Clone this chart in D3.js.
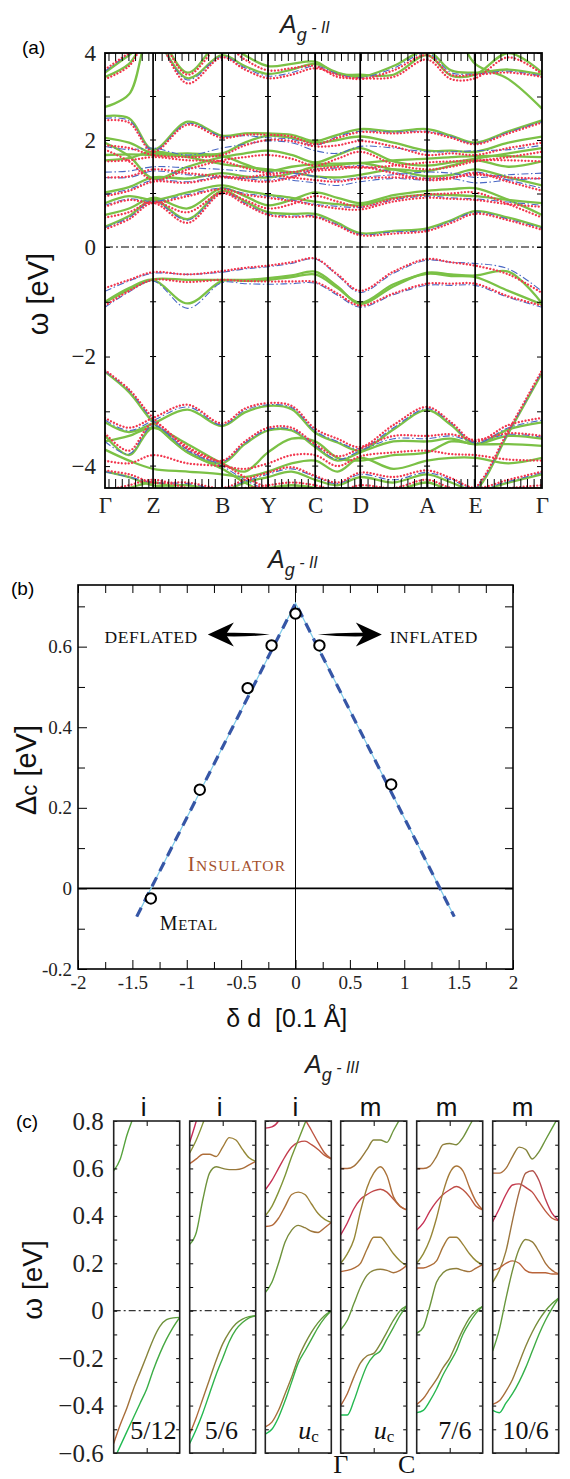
<!DOCTYPE html>
<html>
<head>
<meta charset="utf-8">
<script src="https://cdn.jsdelivr.net/npm/d3@7/dist/d3.min.js"></script>
<style>
  body { margin: 0; background: #fff; }
  svg { display: block; }
</style>
</head>
<body>
<svg id="fig" width="570" height="1479"></svg>
<script>
// ---------- (a) bands along the k-path: values in eV at kSamples ----------
const kLabels = ["Γ", "Z", "B", "Y", "C", "D", "A", "E", "Γ"];
const kPoints = [0, 0.110, 0.268, 0.373, 0.481, 0.584, 0.737, 0.847, 1];
// high-symmetry points and the midpoints between them
const kSamples = [0, 0.055, 0.110, 0.189, 0.268, 0.32, 0.373, 0.427, 0.481, 0.532, 0.584, 0.66, 0.737, 0.792, 0.847, 0.923, 1];

const greenBands = [
  [3.55, 3.95, 4.3, 3.42, 3.95, 3.7, 3.52, 3.62, 3.75, 3.55, 3.45, 3.7, 4.05, 3.6, 3.55, 3.62, 3.5],
  [3.45, 3.75, 4.5, 3.55, 4.3, 3.95, 3.7, 3.75, 3.8, 3.52, 3.5, 3.5, 3.95, 3.48, 3.5, 4.0, 3.55],
  [2.76, 3.05, 4.6, 4.6, 4.6, 4.6, 4.6, 4.6, 4.6, 4.6, 4.6, 4.6, 4.6, 4.6, 3.75, 3.4, 2.72],
  [2.55, 2.5, 1.82, 2.42, 2.1, 2.15, 2.15, 2.12, 1.98, 2.12, 2.25, 2.2, 2.25, 2.1, 1.95, 2.2, 2.45],
  [2.05, 1.95, 1.75, 1.75, 1.75, 1.95, 2.1, 2.05, 1.95, 2.0, 2.08, 1.95, 1.8, 1.8, 1.78, 1.95, 2.08],
  [1.95, 1.7, 1.28, 1.5, 1.68, 1.75, 1.8, 1.72, 1.58, 1.72, 1.85, 1.6, 1.52, 1.58, 1.65, 1.75, 1.85],
  [1.72, 1.73, 1.72, 1.7, 1.7, 1.55, 1.42, 1.5, 1.55, 1.56, 1.57, 1.62, 1.65, 1.68, 1.7, 1.7, 1.68],
  [1.62, 1.66, 1.78, 1.68, 1.55, 1.5, 1.45, 1.4, 1.32, 1.3, 1.35, 1.45, 1.42, 1.52, 1.62, 1.5, 1.6],
  [1.02, 1.12, 1.3, 1.28, 1.38, 1.32, 1.3, 1.38, 1.5, 1.53, 1.57, 1.45, 1.32, 1.35, 1.45, 1.3, 1.15],
  [0.82, 0.95, 0.88, 1.02, 1.15, 1.05, 0.98, 0.92, 0.85, 0.8, 0.78, 0.92, 0.98, 0.97, 0.95, 0.88, 0.82],
  [0.6, 0.72, 0.92, 0.72, 1.1, 0.95, 0.78, 0.88, 1.02, 0.92, 0.82, 0.97, 1.05, 1.08, 1.1, 0.88, 0.6],
  [0.38, 0.58, 0.88, 0.52, 1.05, 0.85, 0.65, 0.62, 0.62, 0.45, 0.26, 0.3, 0.35, 0.5, 0.67, 0.55, 0.37],
  [-1.01, -0.78, -0.59, -0.6, -0.6, -0.6, -0.57, -0.52, -0.45, -0.72, -1.04, -0.72, -0.47, -0.5, -0.52, -0.45, -1.03],
  [-1.0, -0.75, -0.6, -1.03, -0.62, -0.62, -0.6, -0.55, -0.5, -0.75, -1.02, -0.68, -0.49, -0.53, -0.55, -0.8, -1.05],
  [-2.28, -2.65, -3.2, -3.75, -4.05, -4.3, -4.5, -4.6, -4.6, -4.6, -4.6, -4.6, -4.6, -4.6, -4.45, -3.4, -2.3],
  [-3.2, -3.38, -3.22, -2.97, -3.27, -3.02, -2.9, -2.96, -3.39, -3.57, -3.72, -3.33, -2.98, -3.25, -3.6, -3.33, -3.2],
  [-3.44, -3.8, -3.3, -3.75, -3.95, -3.6, -3.35, -3.35, -3.65, -3.9, -3.75, -3.55, -3.55, -3.5, -3.6, -3.45, -3.5],
  [-3.55, -3.45, -3.3, -3.6, -3.95, -4.1, -3.75, -3.5, -3.55, -3.85, -3.9, -3.8, -3.75, -3.55, -3.6, -3.6, -3.63],
  [-3.7, -3.9, -4.05, -4.1, -4.15, -4.2, -4.1, -3.95, -3.9, -4.1, -3.85, -4.05, -3.9, -3.85, -3.85, -3.95, -3.85],
  [-4.1, -4.2, -4.35, -4.35, -4.45, -4.3, -4.2, -4.1, -4.25, -4.35, -4.2, -4.3, -4.15, -4.3, -4.45, -4.3, -4.15],
  [-4.5, -4.4, -4.3, -4.45, -4.5, -4.45, -4.4, -4.35, -4.4, -4.5, -4.4, -4.45, -4.3, -4.45, -4.5, -4.45, -4.4]
];

const redBands = [
  [3.62, 4.0, 4.35, 3.3, 3.9, 3.62, 3.42, 3.5, 3.65, 3.5, 3.4, 3.6, 3.95, 3.5, 3.5, 3.55, 3.45],
  [3.4, 3.7, 4.5, 3.5, 4.2, 3.85, 3.6, 3.65, 3.7, 3.45, 3.42, 3.45, 3.85, 3.4, 3.42, 3.9, 3.52],
  [2.45, 2.4, 1.78, 2.35, 2.05, 2.12, 2.12, 2.08, 1.92, 2.05, 2.18, 2.15, 2.18, 2.05, 1.92, 2.15, 2.4],
  [1.9, 1.85, 1.72, 1.68, 1.72, 1.9, 2.0, 1.98, 1.88, 1.9, 1.98, 1.88, 1.72, 1.75, 1.72, 1.85, 1.95],
  [1.82, 1.6, 1.25, 1.45, 1.62, 1.68, 1.72, 1.65, 1.52, 1.65, 1.78, 1.55, 1.45, 1.5, 1.6, 1.68, 1.78],
  [1.6, 1.62, 1.68, 1.62, 1.6, 1.48, 1.38, 1.4, 1.45, 1.5, 1.48, 1.52, 1.58, 1.6, 1.62, 1.62, 1.6],
  [1.3, 1.32, 1.45, 1.38, 1.32, 1.3, 1.35, 1.3, 1.25, 1.22, 1.28, 1.3, 1.28, 1.3, 1.35, 1.3, 1.28],
  [0.95, 1.05, 1.22, 1.2, 1.3, 1.25, 1.22, 1.3, 1.42, 1.45, 1.5, 1.38, 1.25, 1.28, 1.38, 1.22, 1.05],
  [0.75, 0.88, 0.82, 0.95, 1.08, 0.98, 0.92, 0.86, 0.78, 0.72, 0.7, 0.85, 0.92, 0.9, 0.88, 0.8, 0.75],
  [0.55, 0.65, 0.85, 0.65, 1.02, 0.88, 0.72, 0.8, 0.95, 0.85, 0.75, 0.9, 0.98, 1.0, 1.02, 0.8, 0.55],
  [0.33, 0.52, 0.82, 0.45, 1.0, 0.8, 0.6, 0.56, 0.56, 0.4, 0.22, 0.25, 0.3, 0.45, 0.62, 0.5, 0.32],
  [-0.75, -0.6, -0.46, -0.5, -0.44, -0.38, -0.34, -0.28, -0.21, -0.5, -0.8, -0.45, -0.22, -0.28, -0.34, -0.5, -0.84],
  [-1.07, -0.8, -0.6, -0.64, -0.6, -0.62, -0.63, -0.63, -0.64, -0.85, -1.07, -0.85, -0.67, -0.67, -0.67, -0.9, -1.07],
  [-2.25, -2.6, -3.12, -3.65, -3.95, -4.2, -4.4, -4.55, -4.6, -4.6, -4.6, -4.6, -4.6, -4.6, -4.4, -3.35, -2.25],
  [-3.12, -3.3, -3.12, -2.88, -3.22, -2.95, -2.85, -2.9, -3.32, -3.5, -3.65, -3.25, -2.92, -3.2, -3.55, -3.25, -3.12],
  [-3.4, -3.72, -3.22, -3.68, -3.9, -3.55, -3.3, -3.3, -3.6, -3.82, -3.68, -3.45, -3.45, -3.42, -3.52, -3.4, -3.45],
  [-3.9, -3.95, -3.8, -3.95, -4.0, -4.05, -3.95, -3.8, -3.8, -4.0, -3.82, -3.75, -3.72, -3.78, -3.8, -3.88, -3.9],
  [-4.08, -4.15, -4.3, -4.3, -4.4, -4.25, -4.12, -4.02, -4.18, -4.3, -4.12, -4.2, -4.08, -4.22, -4.4, -4.25, -4.1],
  [-4.45, -4.35, -4.25, -4.4, -4.45, -4.4, -4.35, -4.3, -4.35, -4.45, -4.35, -4.4, -4.25, -4.4, -4.45, -4.4, -4.35]
];

const blueBands = [
  [3.58, 3.98, 4.3, 3.38, 3.92, 3.66, 3.47, 3.55, 3.7, 3.52, 3.43, 3.65, 4.0, 3.55, 3.52, 3.58, 3.47],
  [2.5, 2.45, 1.8, 2.38, 2.08, 2.1, 2.05, 2.02, 1.9, 2.08, 2.2, 2.18, 2.2, 2.08, 1.93, 2.18, 2.42],
  [1.88, 1.82, 1.85, 1.72, 1.85, 1.92, 1.98, 1.95, 1.8, 1.75, 1.88, 1.85, 1.78, 1.78, 1.8, 1.82, 1.9],
  [1.4, 1.42, 1.5, 1.48, 1.45, 1.42, 1.4, 1.38, 1.32, 1.25, 1.3, 1.35, 1.4, 1.38, 1.3, 1.35, 1.38],
  [1.3, 1.3, 1.42, 1.35, 1.3, 1.28, 1.32, 1.25, 1.2, 1.15, 1.22, 1.28, 1.25, 1.28, 1.2, 1.25, 1.28],
  [0.98, 1.08, 1.25, 1.22, 1.32, 1.28, 1.25, 1.32, 1.45, 1.48, 1.52, 1.4, 1.28, 1.3, 1.4, 1.25, 1.1],
  [0.78, 0.9, 0.85, 0.98, 1.1, 1.0, 0.95, 0.88, 0.8, 0.76, 0.74, 0.88, 0.95, 0.92, 0.9, 0.84, 0.78],
  [0.36, 0.55, 0.85, 0.5, 1.02, 0.82, 0.62, 0.58, 0.58, 0.42, 0.24, 0.28, 0.32, 0.48, 0.65, 0.52, 0.35],
  [-0.81, -0.62, -0.48, -0.5, -0.46, -0.4, -0.36, -0.3, -0.22, -0.52, -0.83, -0.48, -0.24, -0.28, -0.3, -0.4, -0.81],
  [-1.1, -0.82, -0.62, -1.12, -0.65, -0.67, -0.68, -0.67, -0.66, -0.88, -1.1, -0.87, -0.7, -0.7, -0.7, -0.92, -1.1],
  [-2.27, -2.62, -3.16, -3.7, -4.0, -4.25, -4.45, -4.6, -4.6, -4.6, -4.6, -4.6, -4.6, -4.6, -4.42, -3.38, -2.27],
  [-3.16, -3.35, -3.17, -2.92, -3.25, -2.98, -2.88, -2.93, -3.36, -3.55, -3.68, -3.3, -2.95, -3.22, -3.58, -3.3, -3.16],
  [-3.55, -3.78, -3.26, -3.72, -3.92, -3.58, -3.33, -3.33, -3.62, -3.88, -3.72, -3.5, -3.5, -3.45, -3.55, -3.42, -3.47],
  [-4.1, -4.2, -4.3, -4.32, -4.42, -4.28, -4.15, -4.05, -4.2, -4.32, -4.15, -4.25, -4.12, -4.25, -4.42, -4.28, -4.12]
];

// ---------- (b) charge gap vs. displacement ----------
const shiftD = [-1.33, -0.88, -0.44, -0.22, 0, 0.22, 0.88];
const gapC = [-0.025, 0.245, 0.497, 0.603, 0.682, 0.603, 0.258];
const fitD = [-1.46, 0, 1.46];
const fitC = [-0.07, 0.708, -0.07];

// ---------- (c) zoom near the gap, six fillings (t = Γ..C) ----------
const tSamples = [0, 0.1, 0.2, 0.3, 0.4, 0.5, 0.6, 0.7, 0.8, 0.9, 1];
const cTopLabels = ["i", "i", "i", "m", "m", "m"];
const cBottomLabels = ["5/12", "5/6", "uc", "uc", "7/6", "10/6"];
const cBands1 = [
  [0.59, 0.64, 0.74, 0.82, 0.92],
  [-0.56, -0.48, -0.41, -0.33, -0.26, -0.19, -0.12, -0.066, -0.038, -0.03, -0.028],
  [-0.63, -0.57, -0.51, -0.45, -0.39, -0.33, -0.25, -0.18, -0.12, -0.07, -0.028]
];
const cBands2 = [
  [0.28, 0.33, 0.47, 0.58, 0.607, 0.6, 0.595, 0.595, 0.6, 0.615, 0.63],
  [0.62, 0.64, 0.66, 0.66, 0.65, 0.69, 0.73, 0.72, 0.68, 0.645, 0.63],
  [0.665, 0.72, 0.79, 0.87],
  [0.71, 0.8, 0.9],
  [-0.52, -0.45, -0.37, -0.29, -0.21, -0.14, -0.09, -0.055, -0.035, -0.025, -0.021],
  [-0.56, -0.5, -0.43, -0.35, -0.27, -0.2, -0.13, -0.08, -0.05, -0.03, -0.021]
];
const cBands3 = [
  [0.51, 0.55, 0.6, 0.65, 0.69, 0.71, 0.715, 0.7, 0.68, 0.655, 0.64],
  [0.77, 0.775, 0.8, 0.86, 0.9, 0.88, 0.81, 0.76, 0.71, 0.665, 0.64],
  [0.4, 0.44, 0.5, 0.57, 0.65, 0.72, 0.79, 0.86],
  [0.355, 0.36, 0.39, 0.44, 0.49, 0.5, 0.49, 0.45, 0.41, 0.385, 0.372],
  [0.077, 0.12, 0.2, 0.29, 0.34, 0.36, 0.35, 0.335, 0.33, 0.35, 0.372],
  [-0.49, -0.47, -0.42, -0.35, -0.28, -0.2, -0.14, -0.09, -0.05, -0.02, 0.0],
  [-0.52, -0.5, -0.45, -0.38, -0.3, -0.22, -0.17, -0.12, -0.07, -0.03, 0.0]
];
const cBands4 = [
  [0.6, 0.6, 0.61, 0.64, 0.68, 0.72, 0.72, 0.71, 0.76, 0.81, 0.86],
  [0.32, 0.37, 0.43, 0.47, 0.49, 0.505, 0.512, 0.5, 0.47, 0.44, 0.425],
  [0.2, 0.24, 0.3, 0.42, 0.52, 0.58, 0.607, 0.57, 0.48, 0.44, 0.425],
  [0.165, 0.17, 0.18, 0.2, 0.26, 0.31, 0.31, 0.28, 0.24, 0.21, 0.19],
  [-0.08, -0.04, 0.03, 0.1, 0.15, 0.17, 0.175, 0.17, 0.16, 0.17, 0.19],
  [-0.40, -0.35, -0.28, -0.22, -0.19, -0.18, -0.14, -0.09, -0.04, 0.0, 0.02],
  [-0.44, -0.44, -0.38, -0.3, -0.23, -0.19, -0.17, -0.12, -0.07, -0.02, 0.02]
];
const cBands5 = [
  [0.6, 0.6, 0.61, 0.65, 0.7, 0.705, 0.7, 0.73, 0.78, 0.83, 0.88],
  [0.34, 0.37, 0.42, 0.46, 0.49, 0.51, 0.524, 0.51, 0.48, 0.44, 0.425],
  [0.2, 0.24, 0.3, 0.39, 0.5, 0.58, 0.61, 0.59, 0.52, 0.46, 0.425],
  [0.18, 0.18, 0.19, 0.21, 0.27, 0.31, 0.31, 0.28, 0.24, 0.21, 0.194],
  [-0.095, -0.07, 0.02, 0.12, 0.16, 0.175, 0.178, 0.17, 0.165, 0.18, 0.194],
  [-0.395, -0.37, -0.33, -0.29, -0.24, -0.2, -0.14, -0.08, -0.03, 0.0, 0.018],
  [-0.43, -0.42, -0.38, -0.33, -0.27, -0.22, -0.17, -0.1, -0.05, -0.01, 0.018]
];
const cBands6 = [
  [0.58, 0.58, 0.6, 0.65, 0.69, 0.68, 0.64, 0.67, 0.72, 0.77, 0.82],
  [0.376, 0.43, 0.49, 0.53, 0.535, 0.52, 0.5, 0.46, 0.42, 0.39, 0.38],
  [0.12, 0.17, 0.25, 0.38, 0.5, 0.58, 0.59, 0.55, 0.47, 0.41, 0.38],
  [0.17, 0.18, 0.2, 0.21, 0.2, 0.17, 0.16, 0.16, 0.16, 0.155, 0.155],
  [-0.17, -0.08, 0.05, 0.17, 0.26, 0.3, 0.29, 0.25, 0.2, 0.17, 0.155],
  [-0.395, -0.38, -0.34, -0.29, -0.22, -0.15, -0.09, -0.04, 0.0, 0.03, 0.053],
  [-0.42, -0.43, -0.39, -0.35, -0.3, -0.24, -0.17, -0.1, -0.04, 0.01, 0.053]
];

// ---------- styles ----------
const SERIF = "Liberation Serif, Times New Roman, DejaVu Serif, serif";
const SANS = "Liberation Sans, Arial, Helvetica, sans-serif";
const tone = { g: "#55a23c", bg: "#19be55", ol: "#8d9036", br: "#b9643a", cr: "#c82a57" };
const cTones = [
  [["g", "g"], ["br", "g"], ["bg", "g"]],
  [["g", "br"], ["br", "ol"], ["ol", "g"], ["cr", "cr"], ["br", "g"], ["bg", "g"]],
  [["cr", "br"], ["cr", "br"], ["ol", "g"], ["br", "ol"], ["g", "br"], ["br", "g"], ["bg", "g"]],
  [["br", "g"], ["cr", "br"], ["ol", "br"], ["br", "ol"], ["g", "br"], ["br", "g"], ["bg", "g"]],
  [["br", "g"], ["cr", "br"], ["ol", "br"], ["br", "ol"], ["g", "br"], ["br", "g"], ["bg", "g"]],
  [["br", "g"], ["cr", "br"], ["ol", "cr"], ["br", "br"], ["g", "br"], ["br", "g"], ["bg", "g"]]
];

const svg = d3.select("#fig");
const defs = svg.append("defs");
const minus = v => (v < 0 ? "−" + (-v) : String(v));
const styleAxis = (g, size, family) => {
  g.select(".domain").remove();
  g.attr("font-family", null).attr("font-size", null);
  g.selectAll("text").style("font-family", family).style("font-size", size + "px").attr("fill", "#222");
  g.selectAll("line").attr("stroke", "#000");
};

function title(x, y, roman) {
  const t = svg.append("text").attr("x", x).attr("y", y)
    .style("font-family", SANS).attr("font-style", "italic").attr("fill", "#222");
  t.append("tspan").attr("font-size", 25).text("A");
  t.append("tspan").attr("font-size", 18).attr("dy", 8).text("g");
  t.append("tspan").attr("font-size", 16).attr("dy", -8).text(" - " + roman);
}

// ================= panel (a) =================
const xA = d3.scaleLinear().domain([0, 1]).range([105, 542]);
const yA = d3.scaleLinear().domain([-4.4, 0, 2, 4]).range([488, 247, 140, 53]);
defs.append("clipPath").attr("id", "clipA").append("rect")
  .attr("x", xA(0)).attr("y", yA(4)).attr("width", xA(1) - xA(0)).attr("height", yA(-4.4) - yA(4));

title(280, 33, "II");
svg.append("text").attr("x", 22).attr("y", 54).style("font-family", SANS).attr("font-size", 19).text("(a)");

const lineA = d3.line().x((d, i) => xA(kSamples[i])).y(d => yA(d)).curve(d3.curveCatmullRom.alpha(0.5));
const bandsA = svg.append("g").attr("clip-path", "url(#clipA)");
[
  [greenBands, { stroke: "#7bc146", w: 2.3, dash: null, cap: "butt" }],
  [blueBands, { stroke: "#4a68c4", w: 1.1, dash: "7,2.5,1.5,2.5", cap: "butt" }],
  [redBands, { stroke: "#f2364e", w: 2.3, dash: "0.01,3.4", cap: "round" }]
].forEach(([bands, s]) => {
  bandsA.append("g").selectAll("path").data(bands).join("path")
    .attr("d", lineA).attr("fill", "none")
    .attr("stroke", s.stroke).attr("stroke-width", s.w)
    .attr("stroke-dasharray", s.dash).attr("stroke-linecap", s.cap);
});

// Fermi level
svg.append("line").attr("x1", xA(0)).attr("x2", xA(1)).attr("y1", yA(0)).attr("y2", yA(0))
  .attr("stroke", "#000").attr("stroke-width", 1.2).attr("stroke-dasharray", "8,3,2,3");

// high-symmetry verticals
svg.append("g").selectAll("line").data(kPoints.slice(1, -1)).join("line")
  .attr("x1", d => xA(d)).attr("x2", d => xA(d)).attr("y1", yA(4)).attr("y2", yA(-4.4))
  .attr("stroke", "#000").attr("stroke-width", 1.7);

// dense ticks along top and bottom
const kMinor = d3.range(0.008, 1, 0.0152);
svg.append("g").attr("transform", `translate(0,${yA(4)})`)
  .call(d3.axisTop(xA).tickValues(kMinor).tickFormat("").tickSizeInner(-8).tickSizeOuter(0))
  .call(g => styleAxis(g, 10, SERIF));
svg.append("g").attr("transform", `translate(0,${yA(-4.4)})`)
  .call(d3.axisBottom(xA).tickValues(kMinor).tickFormat("").tickSizeInner(-9).tickSizeOuter(0))
  .call(g => styleAxis(g, 10, SERIF));
svg.append("g").attr("transform", `translate(0,${yA(-4.4)})`)
  .call(d3.axisBottom(xA).tickValues(kPoints).tickFormat((d, i) => kLabels[i]).tickSize(0).tickPadding(9))
  .call(g => styleAxis(g, 23, SERIF));

const eTicks = [-4, -3, -2, -1, 0, 1, 2, 3, 4];
svg.append("g").attr("transform", `translate(${xA(0)},0)`)
  .call(d3.axisLeft(yA).tickValues(eTicks).tickFormat(d => (d % 2 === 0 ? minus(d) : ""))
    .tickSizeInner(-5).tickSizeOuter(0).tickPadding(9))
  .call(g => styleAxis(g, 23, SERIF));
svg.append("g").attr("transform", `translate(${xA(1)},0)`)
  .call(d3.axisRight(yA).tickValues(eTicks).tickFormat("").tickSizeInner(-5).tickSizeOuter(0))
  .call(g => styleAxis(g, 10, SERIF));
// little marks on the verticals
kPoints.slice(1, -1).forEach(k => {
  svg.append("g").selectAll("line").data(eTicks.slice(0, -1)).join("line")
    .attr("x1", xA(k) - 3).attr("x2", xA(k) + 3).attr("y1", d => yA(d)).attr("y2", d => yA(d))
    .attr("stroke", "#000").attr("stroke-width", 1);
});

svg.append("rect").attr("x", xA(0)).attr("y", yA(4)).attr("width", xA(1) - xA(0)).attr("height", yA(-4.4) - yA(4))
  .attr("fill", "none").attr("stroke", "#000").attr("stroke-width", 1.8);

svg.append("text").attr("transform", `translate(38,${294}) rotate(-90)`)
  .attr("text-anchor", "middle").attr("dominant-baseline", "central")
  .style("font-family", SANS).attr("font-size", 29).attr("fill", "#111").text("ω [eV]");

// ================= panel (b) =================
const xB = d3.scaleLinear().domain([-2, 2]).range([78, 513]);
const yB = d3.scaleLinear().domain([-0.2, 0.753]).range([969, 585]);

title(268, 568, "II");
svg.append("text").attr("x", 11).attr("y", 595).style("font-family", SANS).attr("font-size", 19).text("(b)");

const dMajor = d3.range(-2, 2.001, 0.5);
const dMinor = d3.range(-1.75, 2, 0.5);
const cMajor = [-0.2, 0, 0.2, 0.4, 0.6];
const cMinor = [-0.1, 0.1, 0.3, 0.5, 0.7];
svg.append("g").attr("transform", `translate(0,${yB(-0.2)})`)
  .call(d3.axisBottom(xB).tickValues(dMajor).tickFormat(d => String(d)).tickSizeInner(-9).tickSizeOuter(0).tickPadding(7))
  .call(g => styleAxis(g, 19, SERIF));
svg.append("g").attr("transform", `translate(0,${yB(-0.2)})`)
  .call(d3.axisBottom(xB).tickValues(dMinor).tickFormat("").tickSizeInner(-7).tickSizeOuter(0))
  .call(g => styleAxis(g, 10, SERIF));
svg.append("g").attr("transform", `translate(0,${yB(0.753)})`)
  .call(d3.axisTop(xB).tickValues(dMajor.concat(dMinor)).tickFormat("").tickSizeInner(-8).tickSizeOuter(0))
  .call(g => styleAxis(g, 10, SERIF));
svg.append("g").attr("transform", `translate(${xB(-2)},0)`)
  .call(d3.axisLeft(yB).tickValues(cMajor).tickFormat(d => String(d)).tickSizeInner(-9).tickSizeOuter(0).tickPadding(6))
  .call(g => styleAxis(g, 19, SERIF));
svg.append("g").attr("transform", `translate(${xB(-2)},0)`)
  .call(d3.axisLeft(yB).tickValues(cMinor).tickFormat("").tickSizeInner(-7).tickSizeOuter(0))
  .call(g => styleAxis(g, 10, SERIF));
svg.append("g").attr("transform", `translate(${xB(2)},0)`)
  .call(d3.axisRight(yB).tickValues(cMajor.concat(cMinor)).tickFormat("").tickSizeInner(-8).tickSizeOuter(0))
  .call(g => styleAxis(g, 10, SERIF));

svg.append("line").attr("x1", xB(-2)).attr("x2", xB(2)).attr("y1", yB(0)).attr("y2", yB(0))
  .attr("stroke", "#000").attr("stroke-width", 1.6);
svg.append("line").attr("x1", xB(0)).attr("x2", xB(0)).attr("y1", yB(0.753)).attr("y2", yB(-0.2))
  .attr("stroke", "#000").attr("stroke-width", 1);

// linear fits
const fitPts = fitD.map((d, i) => [d, fitC[i]]);
const lineB = d3.line().x(d => xB(d[0])).y(d => yB(d[1]));
svg.append("path").datum(fitPts).attr("d", lineB).attr("fill", "none")
  .attr("stroke", "#7fcbe9").attr("stroke-width", 1.2);
svg.append("path").datum(fitPts).attr("d", lineB).attr("fill", "none")
  .attr("stroke", "#3656a6").attr("stroke-width", 3.2).attr("stroke-dasharray", "10,7");

svg.append("g").selectAll("circle").data(shiftD).join("circle")
  .attr("cx", d => xB(d)).attr("cy", (d, i) => yB(gapC[i])).attr("r", 5.2)
  .attr("fill", "#fff").attr("stroke", "#000").attr("stroke-width", 2);

svg.append("rect").attr("x", xB(-2)).attr("y", yB(0.753)).attr("width", xB(2) - xB(-2)).attr("height", yB(-0.2) - yB(0.753))
  .attr("fill", "none").attr("stroke", "#000").attr("stroke-width", 1.6);

// arrows and annotations
function arrow(tailD, tipD, c) {
  const x0 = xB(tipD), x1 = xB(tailD), y = yB(c), s = Math.sign(x1 - x0);
  svg.append("path").attr("fill", "#000")
    .attr("d", `M${x0},${y} L${x0 + s * 26},${y - 12} L${x0 + s * 18},${y} L${x0 + s * 26},${y + 12} Z`);
  const xm = (x0 + s * 18 + x1) / 2;
  svg.append("path").attr("fill", "#000")
    .attr("d", `M${x0 + s * 17},${y - 1.8} Q${xm},${y - 2.4} ${x1},${y} Q${xm},${y + 2.4} ${x0 + s * 17},${y + 1.8} Z`);
}
arrow(-0.236, -0.806, 0.63);
arrow(0.205, 0.794, 0.63);

svg.append("text").attr("x", xB(-1.756)).attr("y", yB(0.61)).style("font-family", SERIF)
  .attr("font-size", 17.5).attr("letter-spacing", 0.6).attr("fill", "#111").text("DEFLATED");
svg.append("text").attr("x", xB(0.866)).attr("y", yB(0.61)).style("font-family", SERIF)
  .attr("font-size", 17.5).attr("letter-spacing", 0.6).attr("fill", "#111").text("INFLATED");
const ins = svg.append("text").attr("x", xB(-0.99)).attr("y", yB(0.042)).style("font-family", SERIF)
  .attr("letter-spacing", 1.2).attr("fill", "#a4502c");
ins.append("tspan").attr("font-size", 21).text("I");
ins.append("tspan").attr("font-size", 15.5).text("NSULATOR");
const met = svg.append("text").attr("x", xB(-1.248)).attr("y", yB(-0.104)).style("font-family", SERIF)
  .attr("letter-spacing", 0.6).attr("fill", "#111");
met.append("tspan").attr("font-size", 20).text("M");
met.append("tspan").attr("font-size", 15).text("ETAL");

const ylb = svg.append("text").attr("transform", `translate(26,770) rotate(-90)`)
  .attr("text-anchor", "middle").attr("dominant-baseline", "central")
  .style("font-family", SANS).attr("fill", "#111");
ylb.append("tspan").attr("font-size", 29).text("Δ");
ylb.append("tspan").attr("font-size", 22).attr("dy", 3).text("c");
ylb.append("tspan").attr("font-size", 29).attr("dy", -3).text(" [eV]");
svg.append("text").attr("x", xB(-0.08)).attr("y", 1027).attr("text-anchor", "middle")
  .style("font-family", SANS).style("white-space", "pre").attr("font-size", 25).attr("fill", "#111")
  .text("δ d\u00a0\u00a0[0.1 Å]");

// ================= panel (c) =================
const cLefts = [113.7, 189.7, 265.3, 340.7, 416.7, 492.7];
const cW = 66;
const yC = d3.scaleLinear().domain([-0.6, 0.8]).range([1453, 1121]);
const cBands = [cBands1, cBands2, cBands3, cBands4, cBands5, cBands6];

title(305, 1073, "III");
svg.append("text").attr("x", 16).attr("y", 1128).style("font-family", SANS).attr("font-size", 19).text("(c)");

const eMinor = d3.range(-0.6, 0.801, 0.1).map(v => +v.toFixed(1));
cLefts.forEach((left, p) => {
  const xC = d3.scaleLinear().domain([0, 1]).range([left, left + cW]);
  const g = svg.append("g");
  defs.append("clipPath").attr("id", "clipC" + p).append("rect")
    .attr("x", xC(0)).attr("y", yC(0.8)).attr("width", cW).attr("height", yC(-0.6) - yC(0.8));

  g.append("line").attr("x1", xC(0)).attr("x2", xC(1)).attr("y1", yC(0)).attr("y2", yC(0))
    .attr("stroke", "#000").attr("stroke-width", 1).attr("stroke-dasharray", "7,3,2,3");

  const lineC = d3.line().x((d, i) => xC(tSamples[i])).y(d => yC(d)).curve(d3.curveMonotoneX);
  const gb = g.append("g").attr("clip-path", `url(#clipC${p})`);
  cBands[p].forEach((vals, b) => {
    const id = `gc${p}_${b}`;
    const grad = defs.append("linearGradient").attr("id", id).attr("gradientUnits", "userSpaceOnUse")
      .attr("x1", xC(0)).attr("x2", xC(1)).attr("y1", 0).attr("y2", 0);
    grad.append("stop").attr("offset", "0%").attr("stop-color", tone[cTones[p][b][0]]);
    grad.append("stop").attr("offset", "100%").attr("stop-color", tone[cTones[p][b][1]]);
    gb.append("path").datum(vals).attr("d", lineC).attr("fill", "none")
      .attr("stroke", `url(#${id})`).attr("stroke-width", 1.4);
  });

  g.append("g").attr("transform", `translate(${xC(0)},0)`)
    .call(d3.axisLeft(yC).tickValues(eMinor).tickFormat(p === 0 ? (d => (Math.abs(d * 10) % 2 === 0 ? minus(d) : "")) : "")
      .tickSizeInner(-3.5).tickSizeOuter(0).tickPadding(10))
    .call(a => styleAxis(a, 25, SERIF));
  g.append("g").attr("transform", `translate(${xC(1)},0)`)
    .call(d3.axisRight(yC).tickValues(eMinor).tickFormat("").tickSizeInner(-3.5).tickSizeOuter(0))
    .call(a => styleAxis(a, 10, SERIF));
  g.append("g").attr("transform", `translate(0,${yC(0.8)})`)
    .call(d3.axisTop(xC).tickValues([0.5]).tickFormat("").tickSizeInner(-5).tickSizeOuter(0))
    .call(a => styleAxis(a, 10, SERIF));
  g.append("g").attr("transform", `translate(0,${yC(-0.6)})`)
    .call(d3.axisBottom(xC).tickValues([0.5]).tickFormat("").tickSizeInner(-5).tickSizeOuter(0))
    .call(a => styleAxis(a, 10, SERIF));

  g.append("rect").attr("x", xC(0)).attr("y", yC(0.8)).attr("width", cW).attr("height", yC(-0.6) - yC(0.8))
    .attr("fill", "none").attr("stroke", "#222").attr("stroke-width", 1.6);

  g.append("text").attr("x", xC(0.5) - 3).attr("y", 1116).attr("text-anchor", "middle")
    .style("font-family", SANS).attr("font-size", 26).attr("fill", "#111").text(cTopLabels[p]);

  const lab = cBottomLabels[p];
  const bt = g.append("text").attr("y", 1439).style("font-family", SERIF).attr("font-size", 26).attr("fill", "#111");
  if (lab === "uc") {
    bt.attr("x", xC(0.5)).attr("text-anchor", "start");
    bt.append("tspan").attr("font-style", "italic").text("u");
    bt.append("tspan").attr("font-size", 17).attr("dy", 3).text("c");
  } else {
    const off = { "5/12": 0.6, "5/6": 0.48, "7/6": 0.58, "10/6": 0.5 }[lab];
    bt.attr("x", xC(off)).attr("text-anchor", "middle").text(lab);
  }
  if (p === 3) {
    g.append("text").attr("x", xC(0)).attr("y", 1473).attr("text-anchor", "middle")
      .style("font-family", SERIF).attr("font-size", 26).attr("fill", "#111").text("Γ");
    g.append("text").attr("x", xC(1)).attr("y", 1473).attr("text-anchor", "middle")
      .style("font-family", SERIF).attr("font-size", 26).attr("fill", "#111").text("C");
  }
});

svg.append("text").attr("transform", `translate(32,1280) rotate(-90)`)
  .attr("text-anchor", "middle").attr("dominant-baseline", "central")
  .style("font-family", SANS).attr("font-size", 28).attr("fill", "#111").text("ω [eV]");
</script>
</body>
</html>
